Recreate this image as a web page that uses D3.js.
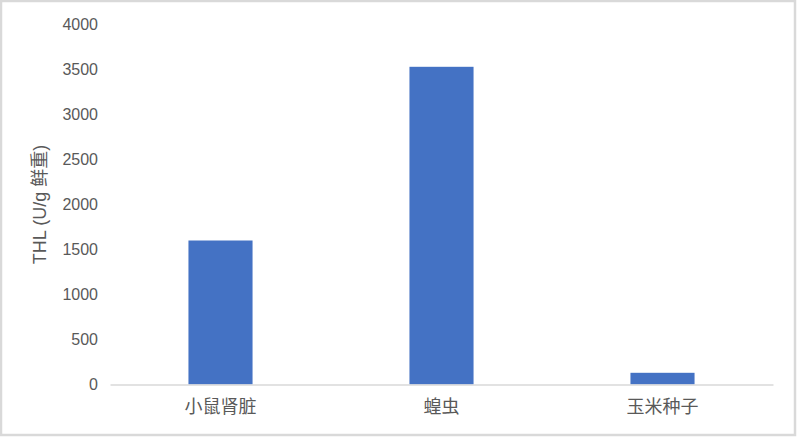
<!DOCTYPE html>
<html>
<head>
<meta charset="utf-8">
<script src="https://cdn.jsdelivr.net/npm/d3@7"></script>
<style>
  body { margin: 0; background: #fff; }
  svg { display: block; }
</style>
</head>
<body>
<div id="chart"></div>
<script>
// chart data
const categories = ["小鼠肾脏", "蝗虫", "玉米种子"];
const values = [1600, 3530, 130];
const yTicks = [0, 500, 1000, 1500, 2000, 2500, 3000, 3500, 4000];

const width = 797;
const height = 437;
const margin = { top: 24.5, right: 24, bottom: 52.5, left: 110 };

const svg = d3.select("#chart")
    .append("svg")
    .attr("width", width)
    .attr("height", height);

// outer frame
svg.append("rect")
    .attr("x", 1)
    .attr("y", 1)
    .attr("width", width - 3)
    .attr("height", height - 3)
    .attr("fill", "#fff")
    .attr("stroke", "#d9d9d9")
    .attr("stroke-width", 2.5);

const x = d3.scaleBand()
    .domain(categories)
    .range([margin.left, width - margin.right])
    .paddingInner(0.71)
    .paddingOuter(0.355);

const y = d3.scaleLinear()
    .domain([0, 4000])
    .range([height - margin.bottom, margin.top]);

const textColor = "#595959";
const fontFamily = "'Liberation Sans', 'Noto Sans CJK SC', sans-serif";

// bars
svg.selectAll("rect.bar")
    .data(values)
    .enter()
    .append("rect")
    .attr("class", "bar")
    .attr("x", (d, i) => x(categories[i]))
    .attr("width", x.bandwidth())
    .attr("y", d => y(d))
    .attr("height", d => y(0) - y(d))
    .attr("fill", "#4472c4");

// y axis labels (no axis line)
const yAxis = svg.append("g")
    .attr("transform", `translate(${margin.left - 12},0)`)
    .call(d3.axisLeft(y).tickValues(yTicks).tickFormat(d3.format("d")).tickSize(0).tickPadding(0));
yAxis.select(".domain").remove();
yAxis.selectAll("text")
    .attr("fill", textColor)
    .attr("font-size", "16px")
    .attr("font-family", fontFamily);

// x axis
const xAxis = svg.append("g")
    .attr("transform", `translate(0,${y(0)})`)
    .call(d3.axisBottom(x).tickSize(0).tickPadding(16));
xAxis.select(".domain")
    .attr("stroke", "#d9d9d9")
    .attr("stroke-width", 1.5);
xAxis.selectAll("text")
    .attr("fill", textColor)
    .attr("font-size", "18px")
    .attr("font-family", "'Noto Sans CJK SC', sans-serif");

// y axis title
svg.append("text")
    .attr("transform", `translate(46,${(margin.top + height - margin.bottom) / 2}) rotate(-90)`)
    .attr("text-anchor", "middle")
    .attr("fill", textColor)
    .attr("font-size", "18px")
    .attr("font-family", fontFamily)
    .text("THL (U/g 鲜重)");
</script>
</body>
</html>
